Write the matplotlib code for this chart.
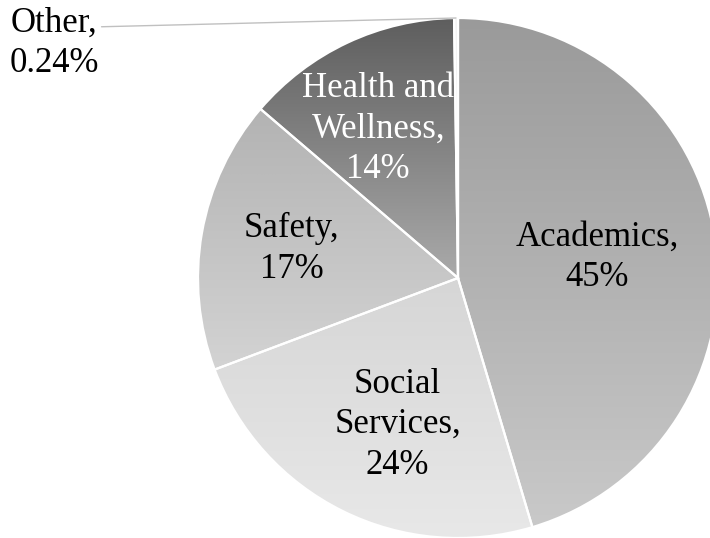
import numpy as np
import matplotlib
matplotlib.use('Agg')
import matplotlib.pyplot as plt

categories = ['Academics', 'Social Services', 'Safety', 'Health and Wellness', 'Other']
values = [45.4, 23.9, 17.0, 13.5, 0.24]
pct_labels = ['45%', '24%', '17%', '14%', '0.24%']
# label text as it is wrapped in the chart
label_text = ['Academics,\n45%', 'Social\nServices,\n24%', 'Safety,\n17%',
              'Health and\nWellness,\n14%', 'Other,\n0.24%']

# gradient fill (top colour, bottom colour) per slice
grad = [('#9a9a9a', '#c9c9c9'), ('#d6d6d6', '#e8e8e8'), ('#b3b3b3', '#d3d3d3'),
        ('#5e5e5e', '#aaaaaa'), ('#f2f2f2', '#f2f2f2')]
txt_col = ['black', 'black', 'black', 'white', 'black']
label_frac = [0.54, 0.61, 0.65, 0.65, None]
label_turn = [0, 4, 0, 3, 0]  # small angular nudge of label (deg)

plt.rcParams['font.family'] = ['Liberation Serif', 'DejaVu Serif']

fig = plt.figure(figsize=(7.1, 5.38), dpi=100)
ax = fig.add_axes([0, 0, 1, 1])
R = 260
C = (458, 260)

wedges, _ = ax.pie(values, startangle=90, counterclock=False, radius=R, center=C,
                   wedgeprops=dict(edgecolor='white', linewidth=1.6, facecolor='none'))

def hex2rgb(h):
    return np.array(matplotlib.colors.to_rgb(h))

for w, (c0, c1) in zip(wedges, grad):
    w.set_zorder(2)
    ext = w.get_path().get_extents()
    t = np.linspace(0, 1, 256)[:, None]
    img = (1 - t) * hex2rgb(c0) + t * hex2rgb(c1)
    img = np.repeat(img[:, None, :], 2, axis=1)
    im = ax.imshow(img, extent=[ext.x0, ext.x1, ext.y0, ext.y1], origin='upper',
                   aspect='auto', zorder=1, interpolation='bilinear')
    im.set_clip_path(w)

for i, w in enumerate(wedges):
    mid = np.deg2rad((w.theta1 + w.theta2) / 2 + label_turn[i])
    if label_frac[i] is None:
        xa = C[0] + R * np.cos(mid)
        ya = C[1] + R * np.sin(mid)
        ax.annotate(label_text[i], xy=(xa, ya), xytext=(54, 495), ha='center', va='center',
                    fontsize=25, color=txt_col[i], linespacing=1.3,
                    arrowprops=dict(arrowstyle='-', color='#c0c0c0', lw=1,
                                    shrinkA=0, shrinkB=0,
                                    relpos=(1.0, 0.72)), zorder=3)
    else:
        f = label_frac[i]
        ax.text(C[0] + f * R * np.cos(mid), C[1] + f * R * np.sin(mid), label_text[i],
                ha='center', va='center', fontsize=25, color=txt_col[i],
                linespacing=1.3, zorder=3)

ax.set_xlim(0, 710)
ax.set_ylim(0, 538)
ax.set_aspect('equal')
ax.axis('off')
fig.savefig('out.png', dpi=100)
